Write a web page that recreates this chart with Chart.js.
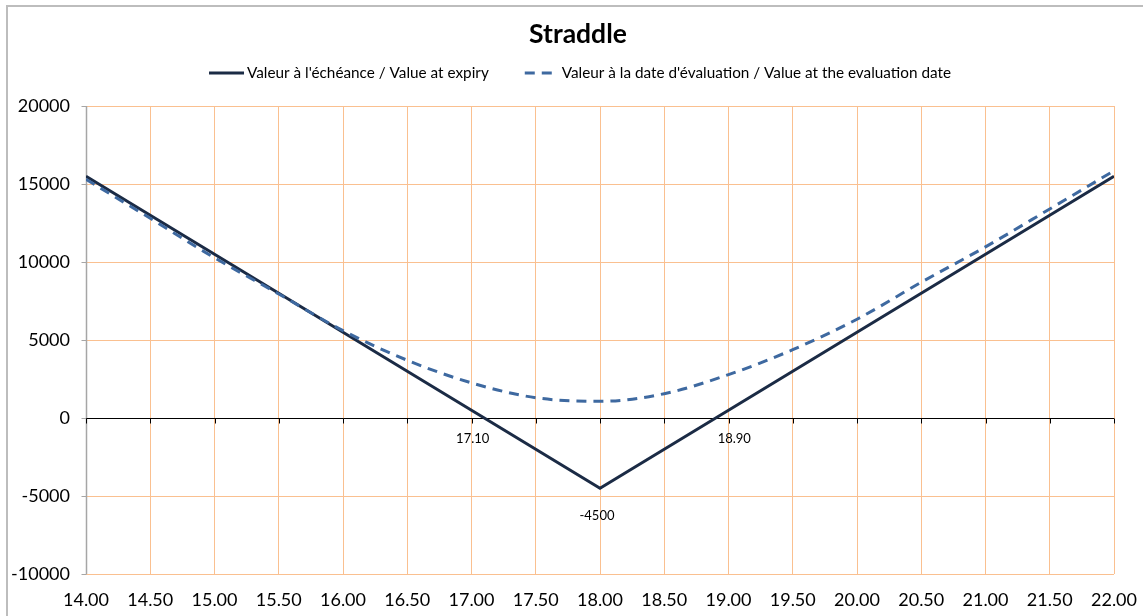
<!DOCTYPE html>
<html>
<head>
<meta charset="utf-8">
<script src="https://cdn.jsdelivr.net/npm/chart.js@4/dist/chart.umd.min.js"></script>
<style>
html,body{margin:0;padding:0;background:#fff;}
#wrap{width:1143px;height:616px;position:relative;}
</style>
</head>
<body>
<div id="wrap"><canvas id="c" width="1143" height="616"></canvas></div>
<script>
const chartTitle = 'Straddle';
const spotPrices = [14.0,14.5,15.0,15.5,16.0,16.5,17.0,17.5,18.0,18.5,19.0,19.5,20.0,20.5,21.0,21.5,22.0];
const valueAtExpiry = [15500,13000,10500,8000,5500,3000,500,-2000,-4500,-2000,500,3000,5500,8000,10500,13000,15500];
const valueAtEvaluation = [15300,12800,10270,7950,5600,3700,2250,1300,1070,1560,2780,4380,6330,8700,10970,13400,15850];
const seriesNames = ["Valeur à l'échéance / Value at expiry", "Valeur à la date d'évaluation / Value at the evaluation date"];
const annotX = [17.1, 18.9, 18.0];
const annotY = [0, 0, -4500];
const annotText = ['17.10', '18.90', '-4500'];

const FONT = 'Lato, "DejaVu Sans", sans-serif';
const GRID = '#FAC090';

function pts(xs, ys){ return xs.map((x,i)=>({x:x, y:ys[i]})); }

const framePlugin = {
  id:'frame',
  beforeDraw(chart){
    const ctx = chart.ctx;
    ctx.save();
    ctx.fillStyle = '#fff';
    ctx.fillRect(0,0,chart.width,chart.height);
    ctx.strokeStyle = '#BDBDBD';
    ctx.lineWidth = 2;
    ctx.strokeRect(7, 6, chart.width + 20, chart.height + 20);
    // title
    ctx.fillStyle = '#000';
    ctx.font = 'bold 26.5px ' + FONT;
    ctx.textAlign = 'center';
    ctx.textBaseline = 'middle';
    ctx.fillText(chartTitle, 578, 34);
    // legend
    ctx.font = '15.3px ' + FONT;
    ctx.textAlign = 'left';
    const ds = chart.data.datasets;
    const order = [0,1];
    const lineW = 35, gapText = 3, gapItem = 35;
    const widths = order.map(i => lineW + gapText + ctx.measureText(ds[i].label).width);
    const total = widths.reduce((a,b)=>a+b,0) + gapItem*(order.length-1);
    let x = 580 - total/2;
    const y = 73;
    order.forEach((i,k)=>{
      ctx.save();
      ctx.strokeStyle = ds[i].borderColor;
      ctx.lineWidth = ds[i].borderWidth;
      ctx.setLineDash(ds[i].borderDash || []);
      ctx.beginPath();
      if (ds[i].borderDash) { ctx.moveTo(x+1, y); ctx.lineTo(x+lineW, y); }
      else { ctx.moveTo(x, y); ctx.lineTo(x+lineW, y); }
      ctx.stroke();
      ctx.restore();
      ctx.fillStyle = '#000';
      ctx.fillText(ds[i].label, x + lineW + gapText, y);
      x += widths[k] + gapItem;
    });
    ctx.restore();
  },
  beforeDatasetsDraw(chart){
    const ctx = chart.ctx;
    const a = chart.chartArea;
    const ys = chart.scales.y, xs = chart.scales.x;
    ctx.save();
    // left value axis line (gray) over the first vertical gridline
    ctx.strokeStyle = '#A6A6A6';
    ctx.lineWidth = 1.5;
    ctx.beginPath();
    const lx = Math.round(a.left) + 0.5;
    ctx.moveTo(lx, a.top); ctx.lineTo(lx, a.bottom); ctx.stroke();
    // y-axis tick marks
    ys.ticks.forEach(t=>{
      const py = Math.round(ys.getPixelForValue(t.value)) + 0.5;
      ctx.lineWidth = 1;
      ctx.beginPath(); ctx.moveTo(lx - 5, py); ctx.lineTo(lx, py); ctx.stroke();
    });
    // zero line and its tick marks
    const y0 = Math.round(ys.getPixelForValue(0)) + 0.5;
    ctx.strokeStyle = '#000';
    ctx.lineWidth = 1;
    ctx.beginPath(); ctx.moveTo(lx, y0); ctx.lineTo(a.right, y0); ctx.stroke();
    xs.ticks.forEach(t=>{
      const px = Math.round(xs.getPixelForValue(t.value)) + 0.5;
      ctx.beginPath(); ctx.moveTo(px, y0); ctx.lineTo(px, y0+5); ctx.stroke();
    });
    ctx.restore();
  },
  afterDatasetsDraw(chart){
    const ctx = chart.ctx;
    const xs = chart.scales.x, ys = chart.scales.y;
    ctx.save();
    ctx.fillStyle = '#000';
    ctx.font = '13px ' + FONT;
    ctx.textBaseline = 'middle';
    const aligns = ['right','left','center'];
    const dxs = [5, 2, -3];
    const dys = [21, 21, 28];
    annotText.forEach((t,i)=>{
      ctx.textAlign = aligns[i];
      ctx.fillText(t, xs.getPixelForValue(annotX[i]) + dxs[i], ys.getPixelForValue(annotY[i]) + dys[i]);
    });
    ctx.restore();
  }
};

new Chart(document.getElementById('c'), {
  type:'line',
  data:{
    datasets:[
      {label:seriesNames[0], data:pts(spotPrices, valueAtExpiry), borderColor:'#1B2B45', borderWidth:3, pointRadius:0, tension:0, order:1, fill:false},
      {label:seriesNames[1], data:pts(spotPrices, valueAtEvaluation), borderColor:'#3E69A0', borderWidth:3, borderDash:[10,7], pointRadius:0, tension:0.4, cubicInterpolationMode:'monotone', order:0, fill:false}
    ]
  },
  options:{
    responsive:false,
    animation:false,
    layout:{padding:{top:106, left:0, right:29, bottom:0}},
    plugins:{legend:{display:false}, title:{display:false}, tooltip:{enabled:false}},
    scales:{
      x:{
        type:'linear', min:14, max:22,
        ticks:{stepSize:0.5, callback:v=>Number(v).toFixed(2), color:'#000', font:{family:FONT, size:18}, padding:15, maxRotation:0, autoSkip:false},
        grid:{color:GRID, lineWidth:1, drawTicks:false},
        border:{display:false},
        afterFit(s){ s.height = 42; s.paddingRight = 0; s.paddingLeft = 0; }
      },
      y:{
        type:'linear', min:-10000, max:20000,
        ticks:{stepSize:5000, callback:v=>String(v), color:'#000', font:{family:FONT, size:18}, padding:16},
        grid:{color:GRID, lineWidth:1, drawTicks:false},
        border:{display:false},
        afterFit(s){ s.width = 86; s.paddingTop = 0; s.paddingBottom = 0; }
      }
    }
  },
  plugins:[framePlugin]
});
</script>
</body>
</html>
